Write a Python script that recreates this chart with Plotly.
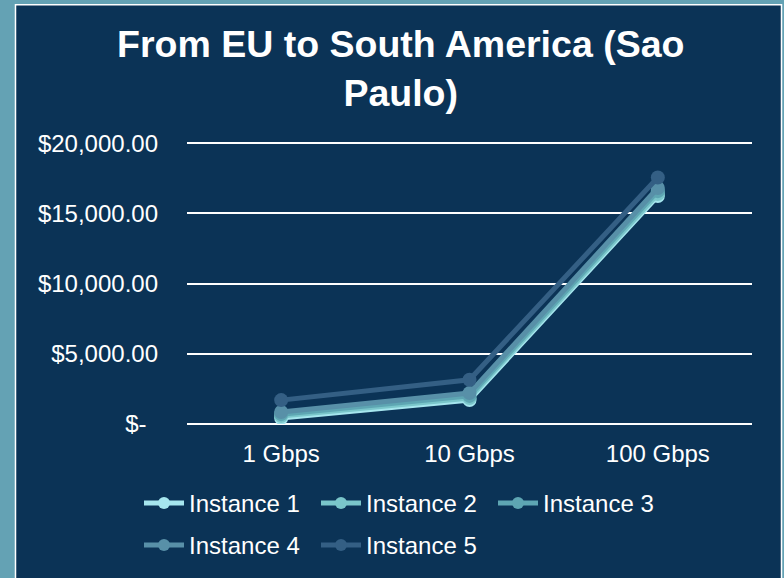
import plotly.graph_objects as go

# Bandwidth tiers on the category axis
categories = ["1 Gbps", "10 Gbps", "100 Gbps"]

# Monthly transfer cost (USD) per instance
instance_1 = [430, 1700, 16230]
instance_2 = [570, 1850, 16370]
instance_3 = [700, 2000, 16580]
instance_4 = [850, 2200, 16800]
instance_5 = [1700, 3150, 17550]

series_names = ["Instance 1", "Instance 2", "Instance 3", "Instance 4", "Instance 5"]
series_values = [instance_1, instance_2, instance_3, instance_4, instance_5]
series_colors = ["#A6E6EE", "#7AC6CA", "#5EA6B3", "#5890A8", "#345F84"]

# Y axis ticks in accounting style
y_tickvals = [0, 5000, 10000, 15000, 20000]
y_ticktext = ["$-\u00a0\u2009", "$5,000.00", "$10,000.00", "$15,000.00", "$20,000.00"]
y_max = 20000
y_pad = 150  # headroom so the top gridline is drawn

W, H = 784, 578
left, right = 187, 32
grid_top, grid_bottom = 143, 424  # pixel rows of y_max and zero
px_per_unit = (grid_bottom - grid_top) / y_max
top = grid_top - y_pad * px_per_unit
bottom = H - grid_bottom
plot_w = W - left - right
plot_h = H - top - bottom

FONT = "Liberation Sans, Arial, sans-serif"
NAVY = "#0B3356"
TEAL = "#64A2B4"

fig = go.Figure()
for i, (name, vals, col) in enumerate(zip(series_names, series_values, series_colors)):
    fig.add_trace(go.Scatter(
        x=categories, y=vals, name=name, mode="lines+markers",
        line=dict(color=col, width=5),
        marker=dict(color=col, size=14),
        legend="legend" if i < 3 else "legend2",
    ))


def px_x(p):
    return (p - left) / plot_w


def px_y(p):
    return (H - bottom - p) / plot_h


# Navy chart panel with a thin white frame over the teal page
fig.add_shape(type="rect", xref="paper", yref="paper",
              x0=px_x(15.5), x1=px_x(781.5), y0=px_y(590), y1=px_y(4.5),
              fillcolor=NAVY, line=dict(color="white", width=1.5), layer="below")

# Chart title
fig.add_annotation(
    text="<b>From EU to South America (Sao<br>Paulo)</b>",
    xref="paper", yref="paper", x=px_x(400), y=px_y(68),
    xanchor="center", yanchor="middle", showarrow=False,
    font=dict(family=FONT, size=37.5, color="white"),
)

legend_common = dict(
    orientation="h", xref="container", yref="container",
    xanchor="left", yanchor="top", bgcolor="rgba(0,0,0,0)",
    font=dict(family=FONT, size=24, color="white"),
    entrywidth=122, entrywidthmode="pixels", itemwidth=40,
    itemsizing="constant", tracegroupgap=0,
)

fig.update_layout(
    width=W, height=H,
    margin=dict(l=left, r=right, t=top, b=bottom),
    paper_bgcolor=TEAL, plot_bgcolor="rgba(0,0,0,0)",
    showlegend=True,
    legend=dict(x=139 / W, y=1 - 481 / H, **legend_common),
    legend2=dict(x=139 / W, y=1 - 523 / H, **legend_common),
    xaxis=dict(
        type="category", range=[-0.5, 2.5], showgrid=False, zeroline=False,
        showline=False, ticks="",
        tickfont=dict(family=FONT, size=24, color="white"),
        ticklabelstandoff=13,
    ),
    yaxis=dict(
        range=[0, y_max + y_pad], tickvals=y_tickvals, ticktext=y_ticktext,
        showgrid=True, gridcolor="white", gridwidth=1.5,
        zeroline=True, zerolinecolor="white", zerolinewidth=1.5,
        showline=False, ticks="",
        tickfont=dict(family=FONT, size=24, color="white"),
        ticklabelstandoff=28,
    ),
)

fig.write_html("out.html")
